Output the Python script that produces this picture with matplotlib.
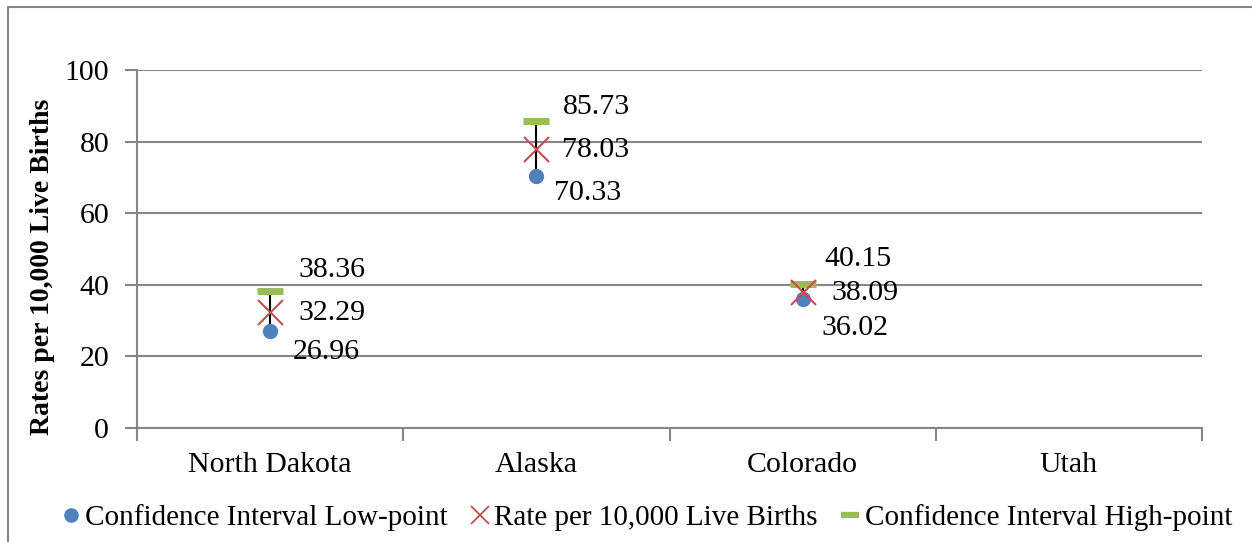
import numpy as np
import matplotlib.pyplot as plt
from matplotlib.patches import Rectangle
from matplotlib.lines import Line2D

states = ['North Dakota', 'Alaska', 'Colorado', 'Utah']
ci_low = [26.96, 70.33, 36.02, np.nan]
rate = [32.29, 78.03, 38.09, np.nan]
ci_high = [38.36, 85.73, 40.15, np.nan]
legend_names = ['Confidence Interval Low-point', 'Rate per 10,000 Live Births',
                'Confidence Interval High-point']

# label offsets in pixels (dx, dy) for high / rate / low labels
off_high = [(28, 21), (26, 14), (22, 25)]
off_rate = [(28, -1), (26, -1), (29, -1)]
off_low = [(23, -21), (18, -17), (19, -29)]

plt.rcParams['font.family'] = ['Liberation Serif', 'DejaVu Serif']
blue = '#4F81BD'
red = '#C0504D'
green = '#9BBB59'
grey = '#868686'
fs = 21.5

fig = plt.figure(figsize=(12.52, 5.42), dpi=100)
ax = fig.add_axes([137/1252, 1 - 428/542, 1065/1252, 358/542])

x = np.arange(len(states))
for i in range(3):
    ax.plot([x[i], x[i]], [ci_low[i], ci_high[i]], color='black', lw=1.5, zorder=2)

ax.plot(x, ci_low, 'o', color=blue, ms=10, zorder=3)
ax.plot(x, rate, 'x', color=red, ms=18, mew=1.5, zorder=4)
ax.plot(x, ci_high, '_', color=green, ms=19, mew=5, zorder=3)

for i in range(3):
    for val, off in ((ci_high[i], off_high[i]), (rate[i], off_rate[i]), (ci_low[i], off_low[i])):
        ax.annotate(f'{val:.2f}', (x[i], val), xytext=off, textcoords='offset pixels',
                    ha='left', va='center', fontsize=fs)

ax.set_xlim(-0.5, 3.5)
ax.set_ylim(0, 100)
ax.set_yticks(range(0, 101, 20))
ax.set_xticks(np.arange(-0.5, 4, 1))
ax.set_xticklabels([])
ax.set_xticks(x, minor=True)
ax.set_xticklabels(states, minor=True)
ax.tick_params(axis='x', which='minor', length=0, labelsize=fs, pad=17)
ax.tick_params(axis='x', which='major', length=9, color=grey, width=1.5)
ax.tick_params(axis='y', length=9, color=grey, width=1.5, labelsize=fs, pad=11)
ax.grid(axis='y', color=grey, lw=1.5)
ax.set_axisbelow(True)
for s in ['top', 'right']:
    ax.spines[s].set_visible(False)
for s in ['left', 'bottom']:
    ax.spines[s].set_color(grey)
    ax.spines[s].set_linewidth(1.5)
ax.set_ylabel('Rates per 10,000 Live Births', fontsize=20, fontweight='bold')
ax.yaxis.set_label_coords(-0.077, 0.45)

handles = [Line2D([], [], ls='none', marker='o', color=blue, ms=9.5),
           Line2D([], [], ls='none', marker='x', color=red, ms=13, mew=1.3),
           Line2D([], [], ls='none', marker='_', color=green, ms=13, mew=4.5)]
fig.legend(handles, legend_names, loc='center', bbox_to_anchor=(644/1252, 1 - 518/542), ncol=3,
           frameon=False, fontsize=21, handletextpad=0.0, columnspacing=0.6, handlelength=1.0,
           borderaxespad=0)

fig.patches.append(Rectangle((8/1252, -0.1), 1.2, 1 - 7/542 + 0.1, transform=fig.transFigure,
                             fill=False, edgecolor=grey, lw=1.5))

fig.savefig('out.png', dpi=100)
